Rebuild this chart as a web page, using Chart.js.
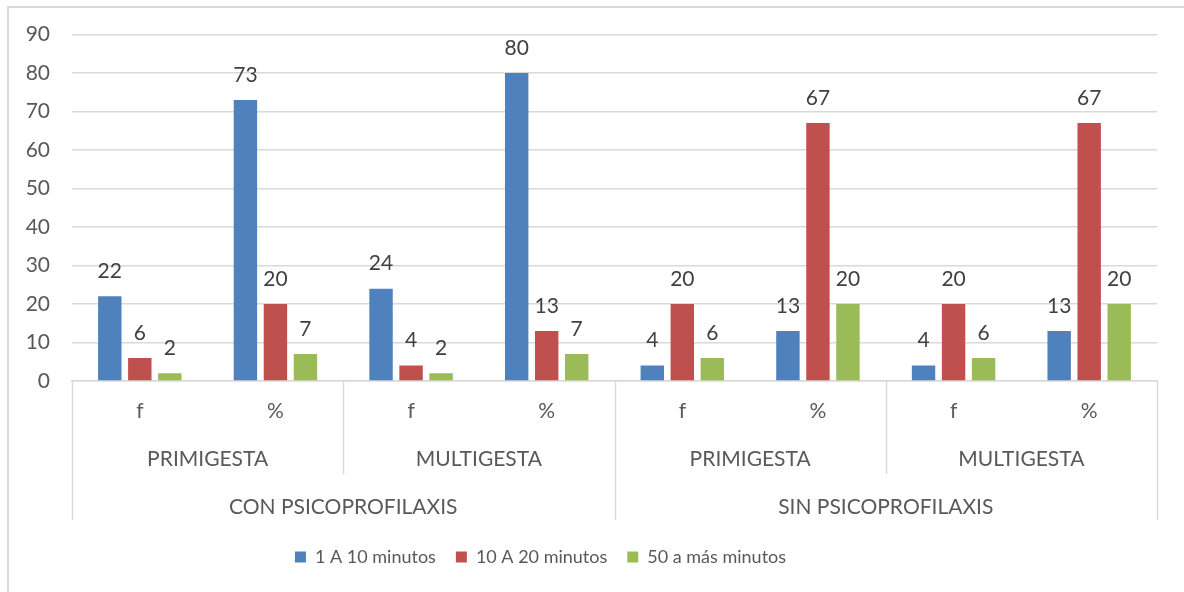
<!DOCTYPE html>
<html>
<head>
<meta charset="utf-8">
<script src="https://cdn.jsdelivr.net/npm/chart.js@4/dist/chart.umd.min.js"></script>
<style>
  html, body { margin: 0; padding: 0; background: #ffffff; }
  #wrap { width: 1184px; height: 592px; position: relative; }
</style>
</head>
<body>
<div id="wrap"><canvas id="c" width="1184" height="592"></canvas></div>
<script>
// Category levels (innermost to outermost)
const categories = ['f', '%', 'f', '%', 'f', '%', 'f', '%'];
const subGroups = ['PRIMIGESTA', 'MULTIGESTA', 'PRIMIGESTA', 'MULTIGESTA'];
const mainGroups = ['CON PSICOPROFILAXIS', 'SIN PSICOPROFILAXIS'];

// Series
const seriesNames = ['1 A 10 minutos', '10 A 20 minutos', '50 a más minutos'];
const serie1 = [22, 73, 24, 80, 4, 13, 4, 13];
const serie2 = [6, 20, 4, 13, 20, 67, 20, 67];
const serie3 = [2, 7, 2, 7, 6, 20, 6, 20];

// Value axis
const yMin = 0;
const yMax = 90;
const yStep = 10;

const colors = ['#4F81BD', '#C0504D', '#9BBB59'];
const FONT = 'Lato, "Open Sans", sans-serif';
const FS = 21;
const LEGEND_FS = 18;
const LINE = '#d9d9d9';
const TEXT = '#595959';

// Outer frame of the chart
const framePlugin = {
  id: 'frame',
  beforeDraw(chart) {
    const ctx = chart.ctx;
    ctx.save();
    ctx.fillStyle = '#ffffff';
    ctx.fillRect(0, 0, chart.width, chart.height);
    ctx.strokeStyle = LINE;
    ctx.lineWidth = 2;
    ctx.strokeRect(8, 7, chart.width + 20, chart.height + 20);
    ctx.restore();
  }
};

// Legend sits slightly left of the plot centre
const legendShift = {
  id: 'legendShift',
  afterLayout(chart) {
    if (chart.legend) {
      chart.legend.left -= 38;
      chart.legend.right -= 38;
    }
  }
};

// Value labels above each bar
const valueLabels = {
  id: 'valueLabels',
  afterDatasetsDraw(chart) {
    const ctx = chart.ctx;
    ctx.save();
    ctx.font = FS + 'px ' + FONT;
    ctx.fillStyle = '#404040';
    ctx.textAlign = 'center';
    ctx.textBaseline = 'middle';
    chart.data.datasets.forEach((ds, di) => {
      const meta = chart.getDatasetMeta(di);
      meta.data.forEach((bar, i) => {
        ctx.fillText(String(ds.data[i]), bar.x, bar.y - 25);
      });
    });
    ctx.restore();
  }
};

// Grouped (multi-level) category axis below the plot
const groupAxis = {
  id: 'groupAxis',
  afterDraw(chart) {
    const ctx = chart.ctx;
    const area = chart.chartArea;
    const n = categories.length;
    const w = (area.right - area.left) / n;
    const y0 = area.bottom;
    const ySub = y0 + 93;
    const yMain = y0 + 139;
    ctx.save();
    ctx.strokeStyle = LINE;
    ctx.lineWidth = 1.5;
    const subSpan = n / subGroups.length;
    const mainSpan = n / mainGroups.length;
    for (let i = 0; i <= n; i += subSpan) {
      const x = Math.round(area.left + i * w) + 0.5;
      const bottom = (i % mainSpan === 0) ? yMain : ySub;
      ctx.beginPath();
      ctx.moveTo(x, y0);
      ctx.lineTo(x, bottom);
      ctx.stroke();
    }
    ctx.font = FS + 'px ' + FONT;
    ctx.fillStyle = TEXT;
    ctx.textAlign = 'center';
    ctx.textBaseline = 'middle';
    subGroups.forEach((label, g) => {
      const cx = area.left + (g + 0.5) * subSpan * w;
      ctx.fillText(label, cx, y0 + 78);
    });
    mainGroups.forEach((label, g) => {
      const cx = area.left + (g + 0.5) * mainSpan * w;
      ctx.fillText(label, cx, y0 + 126);
    });
    ctx.restore();
  }
};

new Chart(document.getElementById('c'), {
  type: 'bar',
  data: {
    labels: categories,
    datasets: [serie1, serie2, serie3].map((d, k) => ({
      label: seriesNames[k],
      data: d,
      backgroundColor: colors[k],
      borderWidth: 0,
      categoryPercentage: 0.664,
      barPercentage: 0.78
    }))
  },
  options: {
    responsive: false,
    animation: false,
    devicePixelRatio: 1,
    layout: { padding: { left: 0, right: 27, top: 30, bottom: 16 } },
    plugins: {
      legend: {
        position: 'bottom',
        labels: {
          font: { family: FONT, size: LEGEND_FS },
          color: TEXT,
          boxWidth: 11,
          boxHeight: 11,
          padding: 20
        }
      },
      tooltip: { enabled: false }
    },
    scales: {
      x: {
        grid: { display: false, drawTicks: false },
        border: { display: true, color: LINE, width: 1.5 },
        ticks: {
          font: { family: FONT, size: FS },
          color: TEXT,
          padding: 18,
          maxRotation: 0
        },
        afterFit(scale) { scale.height = 147; }
      },
      y: {
        min: yMin,
        max: yMax,
        grid: { color: LINE, lineWidth: 1.5, drawTicks: false },
        border: { display: false },
        ticks: {
          stepSize: yStep,
          font: { family: FONT, size: FS },
          color: TEXT,
          padding: 22
        },
        afterFit(scale) { scale.width = 72; }
      }
    }
  },
  plugins: [framePlugin, legendShift, valueLabels, groupAxis]
});
</script>
</body>
</html>
